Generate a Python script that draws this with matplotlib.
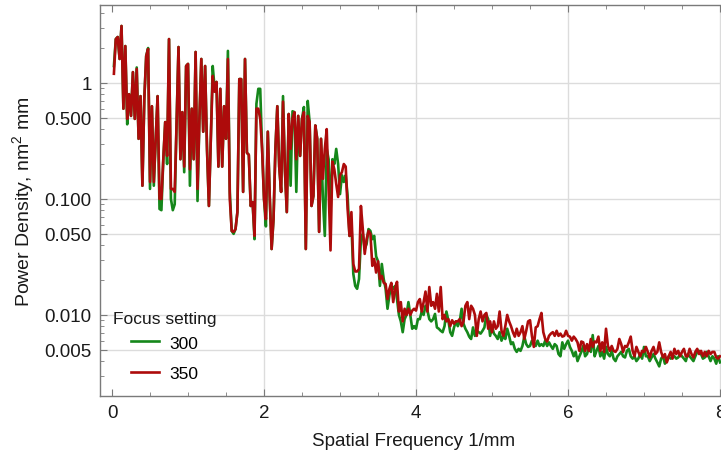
import numpy as np
import matplotlib
matplotlib.use("Agg")
import matplotlib.pyplot as plt
from matplotlib.ticker import LogLocator, MultipleLocator, NullFormatter

plt.rcParams['font.family'] = ['Liberation Sans', 'DejaVu Sans']
plt.rcParams['mathtext.fontset'] = 'custom'
plt.rcParams['mathtext.rm'] = 'Liberation Sans'
plt.rcParams['mathtext.it'] = 'Liberation Sans'

# spatial frequency grid, 1/mm
freq = np.arange(1, 321) * 0.025

# power density for focus setting 350 (red)
psd_350 = [
    1.20, 2.39, 2.49, 1.61, 3.10, 0.60, 2.08, 0.49, 0.80, 0.52,
    1.24, 0.49, 1.32, 0.33, 0.77, 0.13, 0.73, 1.71, 1.96, 0.14,
    0.63, 0.14, 0.33, 0.77, 0.10, 0.10, 0.22, 0.46, 0.235, 2.39,
    0.122, 0.122, 0.115, 0.46, 2.04, 0.22, 0.56, 0.19, 1.40, 1.46,
    0.18, 0.60, 0.22, 1.85, 0.122, 0.49, 1.61, 0.38, 1.40, 0.27,
    0.087, 0.33, 1.15, 0.84, 1.02, 0.19, 0.89, 0.19, 0.63, 0.33,
    1.61, 0.10, 0.053, 0.052, 0.055, 0.077, 1.08, 1.08, 0.115, 1.61,
    0.25, 0.24, 0.087, 0.094, 0.048, 0.60, 0.60, 0.49, 0.27, 0.10,
    0.067, 0.38, 0.106, 0.037, 0.067, 0.27, 0.63, 0.19, 0.115, 0.69,
    0.18, 0.077, 0.54, 0.27, 0.49, 0.56, 0.22, 0.52, 0.235, 0.49,
    0.56, 0.037, 0.52, 0.46, 0.087, 0.106, 0.43, 0.33, 0.052, 0.33,
    0.149, 0.27, 0.40, 0.122, 0.036, 0.21, 0.18, 0.135, 0.104, 0.16,
    0.17, 0.20, 0.19, 0.082, 0.048, 0.077, 0.0275, 0.0237, 0.0237, 0.0249,
    0.087, 0.055, 0.0336, 0.045, 0.053, 0.050, 0.0265, 0.0304, 0.0232, 0.029,
    0.0204, 0.0217, 0.0189, 0.0185, 0.0137, 0.0168, 0.0189, 0.0129, 0.0168, 0.0193,
    0.0107, 0.0129, 0.0088, 0.0113, 0.0100, 0.0113, 0.0100, 0.0109, 0.0113, 0.0109,
    0.0129, 0.0137, 0.0107, 0.0129, 0.0159, 0.0107, 0.0174, 0.0120, 0.0129, 0.0113,
    0.0152, 0.0107, 0.0174, 0.0092, 0.0100, 0.0088, 0.0092, 0.0080, 0.0090, 0.0084,
    0.0088, 0.0088, 0.0092, 0.0080, 0.0088, 0.0120, 0.0129, 0.0092, 0.0120, 0.0113,
    0.0100, 0.0066, 0.0092, 0.0107, 0.0088, 0.0100, 0.0104, 0.0076, 0.0088, 0.0071,
    0.0088, 0.0076, 0.0080, 0.0107, 0.0073, 0.0066, 0.0080, 0.0100, 0.0088, 0.0080,
    0.0071, 0.0065, 0.0076, 0.0066, 0.0071, 0.0080, 0.0062, 0.0073, 0.0088, 0.0090,
    0.0066, 0.0053, 0.0078, 0.0080, 0.0092, 0.0104, 0.0071, 0.0062, 0.0059, 0.0066,
    0.0069, 0.0071, 0.0066, 0.0073, 0.0066, 0.0069, 0.0065, 0.0066, 0.0073, 0.0066,
    0.0065, 0.0060, 0.0065, 0.0062, 0.0058, 0.0049, 0.0059, 0.0058, 0.0049, 0.0056,
    0.0049, 0.0062, 0.0053, 0.0059, 0.0058, 0.0065, 0.0049, 0.0058, 0.0048, 0.0076,
    0.0054, 0.0049, 0.0054, 0.0049, 0.0048, 0.0051, 0.0062, 0.0056, 0.0048, 0.0054,
    0.0053, 0.0058, 0.0065, 0.0049, 0.0044, 0.0053, 0.0048, 0.0044, 0.0049, 0.0048,
    0.0053, 0.0048, 0.0043, 0.0049, 0.0053, 0.0046, 0.0048, 0.0058, 0.0048, 0.0043,
    0.0046, 0.0039, 0.0044, 0.0048, 0.0042, 0.0051, 0.0046, 0.0049, 0.0044, 0.0048,
    0.0051, 0.0044, 0.0044, 0.0051, 0.0046, 0.0043, 0.0048, 0.0051, 0.0046, 0.0049,
    0.0044, 0.0048, 0.0044, 0.0049, 0.0046, 0.0048, 0.0048, 0.0043, 0.0042, 0.0044,
]

# power density for focus setting 300 (green)
psd_300 = [
    1.40, 2.39, 2.49, 1.61, 3.10, 0.60, 2.08, 0.44, 0.80, 0.52,
    1.24, 0.49, 1.36, 0.33, 0.77, 0.13, 0.73, 1.71, 2.00, 0.122,
    0.63, 0.13, 0.33, 0.77, 0.082, 0.080, 0.22, 0.46, 0.20, 2.39,
    0.10, 0.080, 0.09, 0.46, 2.04, 0.22, 0.56, 0.17, 1.40, 1.46,
    0.13, 0.60, 0.22, 1.85, 0.096, 0.49, 1.61, 0.38, 1.40, 0.27,
    0.087, 0.33, 1.40, 0.90, 1.02, 0.19, 0.89, 0.19, 0.63, 0.33,
    1.89, 0.115, 0.053, 0.050, 0.055, 0.077, 1.08, 1.08, 0.115, 1.61,
    0.25, 0.24, 0.087, 0.094, 0.045, 0.66, 0.89, 0.89, 0.27, 0.10,
    0.058, 0.38, 0.106, 0.037, 0.067, 0.27, 0.63, 0.19, 0.115, 0.77,
    0.18, 0.077, 0.54, 0.13, 0.57, 0.56, 0.115, 0.52, 0.235, 0.49,
    0.62, 0.037, 0.70, 0.46, 0.087, 0.106, 0.43, 0.33, 0.052, 0.33,
    0.10, 0.048, 0.27, 0.22, 0.077, 0.22, 0.20, 0.27, 0.20, 0.11,
    0.16, 0.14, 0.16, 0.106, 0.048, 0.061, 0.0226, 0.0178, 0.0168, 0.0204,
    0.045, 0.050, 0.037, 0.041, 0.055, 0.053, 0.045, 0.048, 0.032, 0.029,
    0.0178, 0.0275, 0.0204, 0.0168, 0.0113, 0.0148, 0.0178, 0.0168, 0.0178, 0.0137,
    0.0100, 0.0088, 0.0071, 0.0092, 0.0100, 0.0129, 0.0100, 0.0076, 0.0080, 0.0076,
    0.0092, 0.0092, 0.0107, 0.0100, 0.0120, 0.0109, 0.0092, 0.0088, 0.0092, 0.0102,
    0.0078, 0.0076, 0.0073, 0.0071, 0.0080, 0.0107, 0.0090, 0.0071, 0.0066, 0.0078,
    0.0088, 0.0080, 0.0088, 0.0113, 0.0084, 0.0076, 0.0071, 0.0065, 0.0062, 0.0078,
    0.0066, 0.0073, 0.0071, 0.0069, 0.0073, 0.0078, 0.0100, 0.0092, 0.0066, 0.0080,
    0.0069, 0.0066, 0.0062, 0.0071, 0.0060, 0.0066, 0.0062, 0.0076, 0.0066, 0.0056,
    0.0058, 0.0051, 0.0048, 0.0051, 0.0049, 0.0054, 0.0065, 0.0056, 0.0053, 0.0054,
    0.0060, 0.0058, 0.0054, 0.0060, 0.0054, 0.0056, 0.0054, 0.0060, 0.0054, 0.0058,
    0.0054, 0.0051, 0.0056, 0.0054, 0.0046, 0.0044, 0.0058, 0.0051, 0.0056, 0.0060,
    0.0053, 0.0049, 0.0044, 0.0048, 0.0040, 0.0044, 0.0048, 0.0054, 0.0044, 0.0046,
    0.0053, 0.0048, 0.0067, 0.0044, 0.0049, 0.0054, 0.0044, 0.0048, 0.0042, 0.0053,
    0.0046, 0.0044, 0.0049, 0.0042, 0.0040, 0.0044, 0.0046, 0.0048, 0.0044, 0.0043,
    0.0049, 0.0051, 0.0044, 0.0042, 0.0044, 0.0040, 0.0042, 0.0046, 0.0042, 0.0053,
    0.0044, 0.0044, 0.0040, 0.0043, 0.0046, 0.0042, 0.0039, 0.0036, 0.0042, 0.0044,
    0.0038, 0.0040, 0.0044, 0.0042, 0.0043, 0.0044, 0.0042, 0.0043, 0.0046, 0.0044,
    0.0042, 0.0040, 0.0046, 0.0044, 0.0042, 0.0040, 0.0044, 0.0048, 0.0049, 0.0046,
    0.0042, 0.0043, 0.0048, 0.0044, 0.0040, 0.0044, 0.0042, 0.0038, 0.0044, 0.0039,
]

series_labels = ["300", "350"]
y_ticks = [0.005, 0.01, 0.05, 0.1, 0.5, 1]
y_tick_labels = ["0.005", "0.010", "0.050", "0.100", "0.500", "1"]
x_ticks = [0, 2, 4, 6, 8]

green = "#15871a"
red = "#ad0b0b"
grid_col = "#dcdcdc"
frame_col = "#7a7a7a"

fig = plt.figure(figsize=(7.21, 4.56), dpi=100)
# plot area runs a little past the right edge of the picture, as in the original
ax = fig.add_axes([100 / 721, 59 / 456, 628 / 721, 391 / 456])

for v in [2, 4, 6, 8]:
    ax.axvline(v, color=grid_col, lw=1.0, zorder=0)
for v in y_ticks:
    ax.axhline(v, color=grid_col, lw=1.0, zorder=0)

l1, = ax.plot(freq, psd_300, color=green, lw=1.9, label=series_labels[0])
l2, = ax.plot(freq, psd_350, color=red, lw=1.9, label=series_labels[1])

ax.set_yscale("log")
ax.set_xlim(-0.158, 8.105)
ax.set_ylim(0.002, 4.7)

ax.set_yticks(y_ticks)
ax.set_yticklabels(y_tick_labels)
ax.yaxis.set_minor_locator(LogLocator(base=10, subs=np.arange(2, 10) * 1.0, numticks=20))
ax.yaxis.set_minor_formatter(NullFormatter())
ax.set_xticks(x_ticks)
ax.xaxis.set_minor_locator(MultipleLocator(0.5))

ax.tick_params(which="both", direction="in", top=True, right=True,
               color=frame_col, labelsize=13.5, labelcolor="#1a1a1a")
ax.tick_params(which="major", length=5, pad=6)
ax.tick_params(which="minor", length=3)
for s in ax.spines.values():
    s.set_color(frame_col)
    s.set_linewidth(1.0)

ax.set_xlabel("Spatial Frequency 1/mm", fontsize=13.5, labelpad=8, color="#1a1a1a")
ax.set_ylabel("Power Density, nm$^2$ mm", fontsize=14, labelpad=6, color="#1a1a1a")

ax.text(0.021, 0.199, "Focus setting", transform=ax.transAxes, fontsize=12.5,
        va="center", ha="left", color="#1a1a1a")
ax.legend(handles=[l1, l2], loc="upper left", bbox_to_anchor=(0.05, 0.155),
          frameon=False, fontsize=12.5, handlelength=1.6, handletextpad=0.6,
          labelspacing=0.9, borderpad=0, borderaxespad=0)

fig.savefig("out.png", dpi=100)
